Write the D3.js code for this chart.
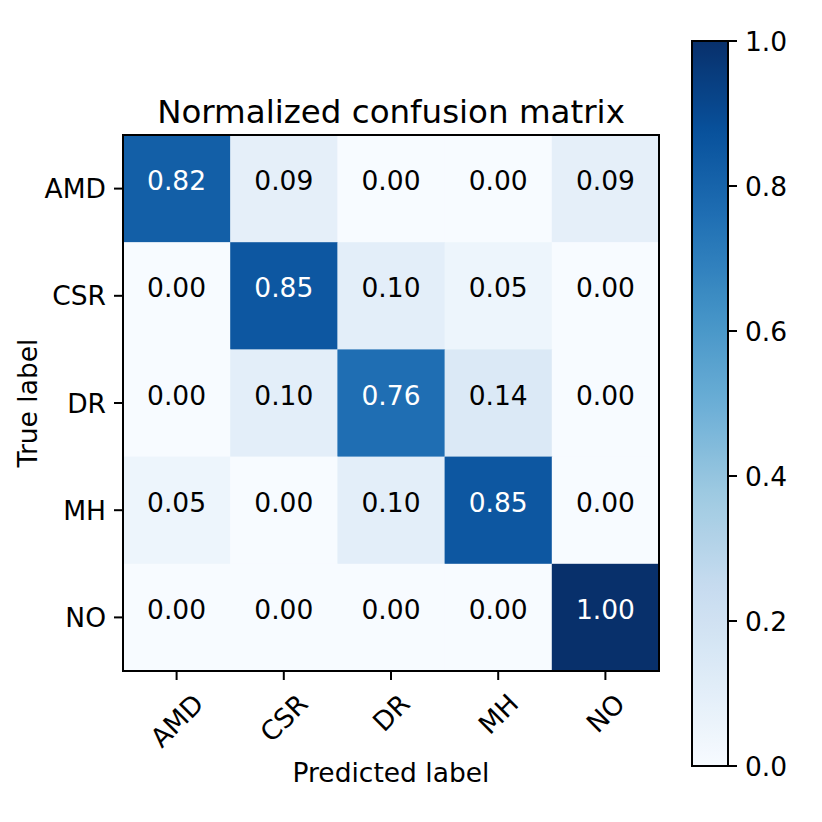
<!DOCTYPE html>
<html>
<head>
<meta charset="utf-8">
<script src="https://cdn.jsdelivr.net/npm/d3@7"></script>
<style>
  body { margin: 0; background: #fff; }
  text { font-family: "DejaVu Sans", sans-serif; fill: #000; }
</style>
</head>
<body>
<script>
var classes = ["AMD", "CSR", "DR", "MH", "NO"];
var matrix = [
  [0.82, 0.09, 0.00, 0.00, 0.09],
  [0.00, 0.85, 0.10, 0.05, 0.00],
  [0.00, 0.10, 0.76, 0.14, 0.00],
  [0.05, 0.00, 0.10, 0.85, 0.00],
  [0.00, 0.00, 0.00, 0.00, 1.00]
];
var cbTicks = [0, 0.2, 0.4, 0.6, 0.8, 1.0];
var blues = ["#f7fbff", "#deebf7", "#c6dbef", "#9ecae1", "#6baed6", "#4292c6", "#2171b5", "#08519c", "#08306b"];

var W = 822, H = 822;
var mLeft = 123, mTop = 135, size = 536;
var cbLeft = 692, cbWidth = 36, cbTop = 41, cbBottom = 766;
var fs = 26.5;

var svg = d3.select("body").append("svg")
  .attr("width", W)
  .attr("height", H);

var color = d3.scaleLinear()
  .domain(blues.map(function(d, i) { return i / (blues.length - 1); }))
  .range(blues)
  .interpolate(d3.interpolateRgb);

var x = d3.scaleBand().domain(classes).range([mLeft, mLeft + size]);
var y = d3.scaleBand().domain(classes).range([mTop, mTop + size]);

var cells = [];
matrix.forEach(function(row, i) {
  row.forEach(function(v, j) { cells.push({ r: classes[i], c: classes[j], v: v }); });
});

svg.selectAll("rect.cell")
  .data(cells)
  .enter().append("rect")
    .attr("class", "cell")
    .attr("x", function(d) { return x(d.c); })
    .attr("y", function(d) { return y(d.r); })
    .attr("width", x.bandwidth() + 0.5)
    .attr("height", y.bandwidth() + 0.5)
    .style("fill", function(d) { return color(d.v); });

// matplotlib centres the full text box, so digits sit a bit high
svg.selectAll("text.val")
  .data(cells)
  .enter().append("text")
    .attr("class", "val")
    .attr("x", function(d) { return x(d.c) + x.bandwidth() / 2; })
    .attr("y", function(d) { return y(d.r) + y.bandwidth() / 2 - 8; })
    .attr("dy", "0.36em")
    .attr("text-anchor", "middle")
    .attr("font-size", fs)
    .style("fill", function(d) { return d.v > 0.5 ? "#fff" : "#000"; })
    .text(function(d) { return d.v.toFixed(2); });

svg.append("rect")
  .attr("x", mLeft).attr("y", mTop)
  .attr("width", size).attr("height", size)
  .style("fill", "none")
  .style("stroke", "#000")
  .style("stroke-width", 2);

// y ticks
var yTicks = svg.selectAll("g.ytick")
  .data(classes)
  .enter().append("g")
    .attr("transform", function(d) { return "translate(" + mLeft + "," + (y(d) + y.bandwidth() / 2) + ")"; });
yTicks.append("line")
  .attr("x1", 0).attr("x2", -9)
  .style("stroke", "#000").style("stroke-width", 2);
yTicks.append("text")
  .attr("x", -17)
  .attr("dy", "0.36em")
  .attr("text-anchor", "end")
  .attr("font-size", fs)
  .text(function(d) { return d; });

// x ticks
var xTicks = svg.selectAll("g.xtick")
  .data(classes)
  .enter().append("g")
    .attr("transform", function(d) { return "translate(" + (x(d) + x.bandwidth() / 2) + "," + (mTop + size) + ")"; });
xTicks.append("line")
  .attr("y1", 0).attr("y2", 9)
  .style("stroke", "#000").style("stroke-width", 2);
xTicks.append("text")
  .attr("text-anchor", "middle")
  .attr("dy", "0.36em")
  .attr("font-size", fs)
  .text(function(d) { return d; })
  .attr("transform", function() {
    var w = this.getComputedTextLength();
    var cy = 21 + (w + 19) * 0.3536;
    return "translate(0," + cy + ") rotate(-45)";
  });

// title and axis labels
svg.append("text")
  .attr("x", mLeft + size / 2)
  .attr("y", 123)
  .attr("text-anchor", "middle")
  .attr("font-size", 32.5)
  .text("Normalized confusion matrix");

svg.append("text")
  .attr("x", mLeft + size / 2)
  .attr("y", 782)
  .attr("text-anchor", "middle")
  .attr("font-size", fs)
  .text("Predicted label");

svg.append("text")
  .attr("transform", "translate(37," + (mTop + size / 2) + ") rotate(-90)")
  .attr("text-anchor", "middle")
  .attr("font-size", fs)
  .text("True label");

// colorbar
var grad = svg.append("defs").append("linearGradient")
  .attr("id", "cbgrad")
  .attr("x1", "0").attr("y1", "1").attr("x2", "0").attr("y2", "0");
grad.selectAll("stop")
  .data(d3.range(0, 1.0001, 0.02))
  .enter().append("stop")
    .attr("offset", function(d) { return d; })
    .attr("stop-color", function(d) { return color(d); });

var cy = d3.scaleLinear().domain([0, 1]).range([cbBottom, cbTop]);

svg.append("rect")
  .attr("x", cbLeft).attr("y", cbTop)
  .attr("width", cbWidth).attr("height", cbBottom - cbTop)
  .style("fill", "url(#cbgrad)")
  .style("stroke", "#000")
  .style("stroke-width", 2);

var cbT = svg.selectAll("g.cbtick")
  .data(cbTicks)
  .enter().append("g")
    .attr("transform", function(d) { return "translate(" + (cbLeft + cbWidth) + "," + cy(d) + ")"; });
cbT.append("line")
  .attr("x1", 0).attr("x2", 9)
  .style("stroke", "#000").style("stroke-width", 2);
cbT.append("text")
  .attr("x", 17)
  .attr("dy", "0.36em")
  .attr("font-size", fs)
  .text(function(d) { return d.toFixed(1); });
</script>
</body>
</html>
